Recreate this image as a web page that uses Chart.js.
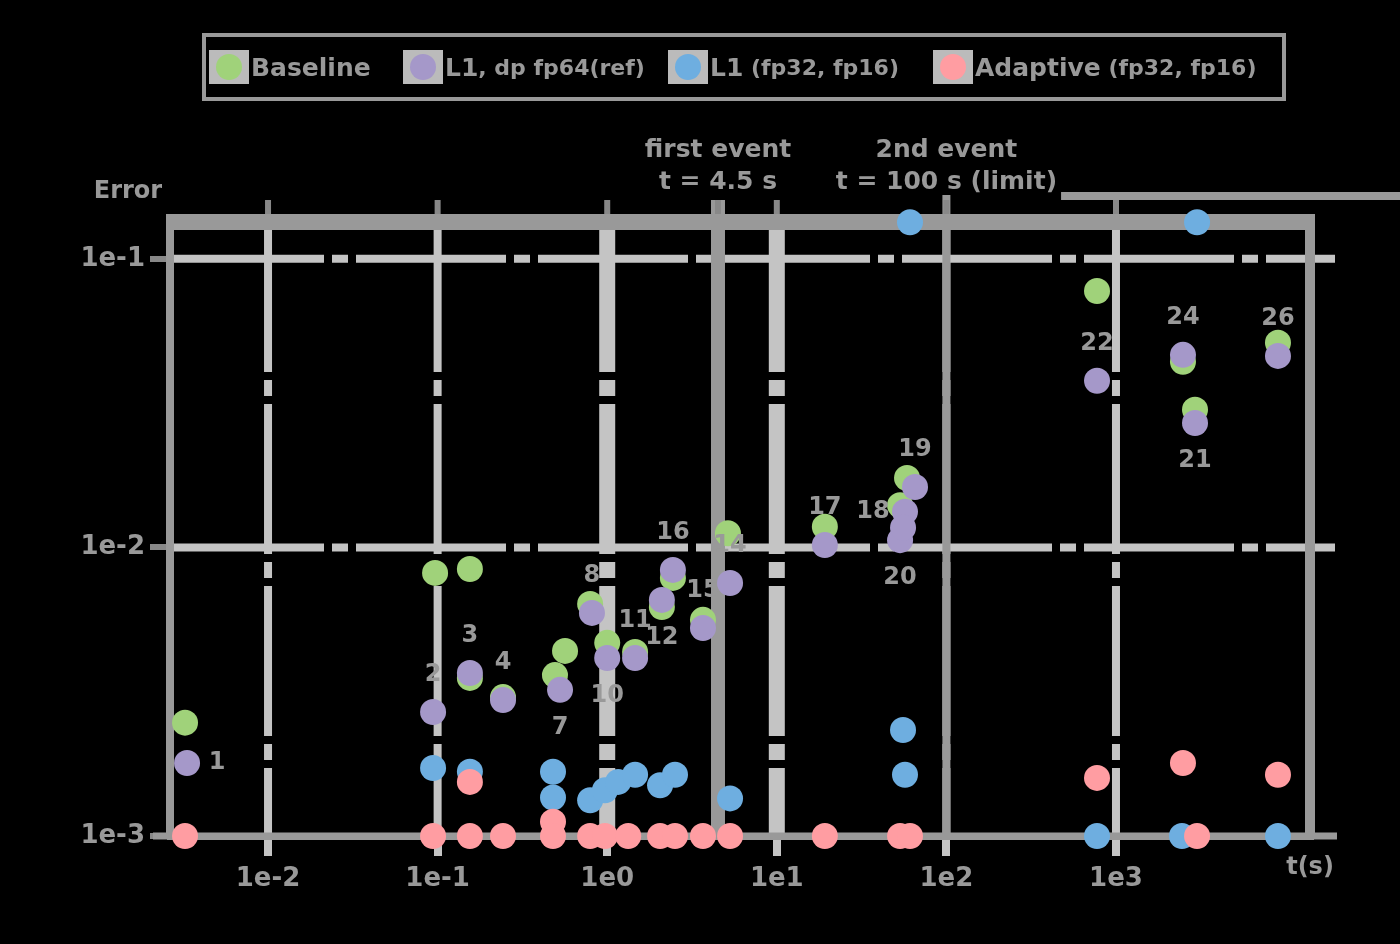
<!DOCTYPE html>
<html><head><meta charset="utf-8">
<script src="https://cdn.jsdelivr.net/npm/chart.js@4.4.1/dist/chart.umd.min.js"></script>
<style>
html,body{margin:0;padding:0;background:#000;width:1400px;height:944px;overflow:hidden;}
#wrap{position:relative;width:1400px;height:944px;}
canvas{position:absolute;left:0;top:0;}
#legend{position:absolute;left:202px;top:33px;width:1084px;height:68px;box-sizing:border-box;border:4px solid #999;display:flex;align-items:center;padding-left:3px;font:bold 25px "DejaVu Sans",sans-serif;color:#999;}
.item{display:flex;align-items:center;white-space:nowrap;flex-shrink:0;}
.key{width:40px;height:34px;background:#bbb;display:flex;align-items:center;justify-content:center;margin-right:2px;flex-shrink:0;}
.dot{width:26px;height:26px;border-radius:50%;}
.sub{font-size:22px;white-space:pre;}
</style></head><body>
<div id="wrap"><canvas id="c" width="1400" height="944"></canvas><div id="legend"></div></div>
<script>
// ---- data ----
const seriesMain = ["Baseline", "L1", "L1", "Adaptive"];
const seriesSub = ["", ", dp fp64(ref)", " (fp32, fp16)", " (fp32, fp16)"];
const seriesColors = ["#a0d27a", "#a598c9", "#6eaee0", "#ff9da2"];

const xTickValues = [0.01, 0.1, 1, 10, 100, 1000];
const xTickLabels = ["1e-2", "1e-1", "1e0", "1e1", "1e2", "1e3"];
const yTickValues = [0.001, 0.01, 0.1];
const yTickLabels = ["1e-3", "1e-2", "1e-1"];

const greenX = [0.00324, 0.0966, 0.155, 0.155, 0.243, 0.564, 0.492, 0.793, 1.0, 1.46, 2.10, 2.44, 3.67, 5.15, 19.2, 58.6, 53.3, 773, 2483, 2924, 9020];
const greenY = [0.00247, 0.00816, 0.00842, 0.00353, 0.00303, 0.00438, 0.00361, 0.00637, 0.00467, 0.00434, 0.00622, 0.00784, 0.00561, 0.0112, 0.0118, 0.0174, 0.0140, 0.0774, 0.0440, 0.0300, 0.0512];

const purpleX = [0.00333, 0.094, 0.155, 0.243, 0.527, 0.813, 1.0, 1.46, 2.10, 2.44, 3.67, 5.30, 19.2, 65.3, 57.0, 53.3, 55.5, 773, 2483, 2924, 9020];
const purpleY = [0.00179, 0.00269, 0.00367, 0.00296, 0.00321, 0.00593, 0.00414, 0.00414, 0.00658, 0.00836, 0.00526, 0.00753, 0.0102, 0.0162, 0.0133, 0.0106, 0.0117, 0.0378, 0.0465, 0.0270, 0.0461];
const purpleLabels = ["1", "2", "3", "4", "7", "8", "10", "11", "12", "16", "15", "14", "17", "19", "18", "20", "", "22", "24", "21", "26"];
const purpleLabelSides = ["e", "n", "n", "n", "s", "n", "s", "n", "s", "n", "n", "n", "n", "n", "w", "s", "", "n", "n", "s", "n"];

const blueX = [0.094, 0.155, 0.479, 0.479, 0.793, 0.970, 1.16, 1.46, 2.05, 2.51, 5.30, 61.0, 55.5, 57.0, 773, 2449, 3006, 9020];
const blueY = [0.00172, 0.00167, 0.00167, 0.00136, 0.00133, 0.00144, 0.00154, 0.00163, 0.00150, 0.00163, 0.00135, 0.134, 0.00233, 0.00163, 0.001, 0.001, 0.134, 0.001];

const pinkX = [0.00324, 0.094, 0.155, 0.243, 0.155, 0.479, 0.479, 0.793, 0.970, 1.33, 2.05, 2.51, 3.67, 5.30, 19.2, 53.3, 61.0, 773, 2483, 3006, 9020];
const pinkY = [0.001, 0.001, 0.001, 0.001, 0.00154, 0.00112, 0.001, 0.001, 0.001, 0.001, 0.001, 0.001, 0.001, 0.001, 0.001, 0.001, 0.001, 0.00159, 0.00179, 0.001, 0.00163];

const eventTimes = [4.5, 100];
const eventTitles = ["first event", "2nd event"];
const eventNotes = ["t = 4.5 s", "t = 100 s (limit)"];
const wideGridValues = [1, 10];
const xTitle = "t(s)";
const yTitle = "Error";

// ---- styling ----
const GRAY = "#999999", DARK = "#888888", GRID = "#c4c4c4";
const FONT = 'bold 24px "DejaVu Sans", sans-serif';
const legendItemWidths = [194, 265, 265, 330];
const TICKFONT = {family: "DejaVu Sans", size: 26, weight: "bold"};

// legend (HTML)
const lg = document.getElementById("legend");
seriesMain.forEach((n, i) => {
  const it = document.createElement("div"); it.className = "item"; it.style.width = legendItemWidths[i] + "px";
  const k = document.createElement("div"); k.className = "key";
  const d = document.createElement("div"); d.className = "dot"; d.style.background = seriesColors[i];
  k.appendChild(d); it.appendChild(k);
  const t = document.createElement("span"); t.textContent = n; it.appendChild(t);
  if (seriesSub[i]) { const s = document.createElement("span"); s.className = "sub"; s.textContent = seriesSub[i]; it.appendChild(s); }
  lg.appendChild(it);
});

const pts = (xs, ys) => xs.map((v, i) => ({x: v, y: ys[i]}));

function seg(ctx, x1, y1, x2, y2) { ctx.beginPath(); ctx.moveTo(x1, y1); ctx.lineTo(x2, y2); ctx.stroke(); }

const decor = {
  id: "decor",
  beforeDatasetsDraw(chart) {
    const {ctx, chartArea: a, scales: {x, y}} = chart;
    ctx.save();
    ctx.lineCap = "butt";
    ctx.strokeStyle = GRID;
    ctx.setLineDash([150, 8, 16, 8]);
    yTickValues.forEach(v => {
      if (v <= y.min) return;
      const py = y.getPixelForValue(v);
      ctx.lineWidth = 8; seg(ctx, a.left + 4, py, a.right + 25, py);
    });
    xTickValues.forEach(v => {
      const px = x.getPixelForValue(v);
      ctx.lineWidth = wideGridValues.includes(v) ? 16 : 8;
      seg(ctx, px, a.top, px, a.bottom);
    });
    ctx.setLineDash([]);
    // event lines
    ctx.strokeStyle = GRAY;
    eventTimes.forEach((v, i) => {
      const px = x.getPixelForValue(v);
      ctx.lineWidth = i === 0 ? 14 : 8;
      seg(ctx, px, a.top - (i === 0 ? 22 : 27), px, a.bottom);
    });
    // frame
    ctx.lineWidth = 16; seg(ctx, a.left - 4, a.top, a.right + 5, a.top);
    ctx.lineWidth = 10; seg(ctx, a.right, a.top, a.right, a.bottom);
    ctx.lineWidth = 8; seg(ctx, a.left, a.top, a.left, a.bottom);
    ctx.lineWidth = 7; seg(ctx, 153, a.bottom, 1337, a.bottom);
    // top stubs
    ctx.strokeStyle = DARK; ctx.lineWidth = 6;
    xTickValues.concat([eventTimes[0]]).forEach(v => {
      const px = x.getPixelForValue(v);
      seg(ctx, px, a.top - 22, px, a.top - 8);
    });
    ctx.restore();
  },
  afterDatasetsDraw(chart) {
    const {ctx, chartArea: a, scales: {x, y}} = chart;
    ctx.save();
    ctx.font = FONT; ctx.fillStyle = GRAY; ctx.textAlign = "center"; ctx.textBaseline = "middle";
    // point labels
    const meta = chart.getDatasetMeta(1);
    meta.data.forEach((el, i) => {
      const s = purpleLabels[i]; if (!s) return;
      const side = purpleLabelSides[i];
      let dx = 0, dy = 0;
      if (side === "n") dy = -37; else if (side === "s") dy = 38; else if (side === "e") dx = 30; else if (side === "w") dx = -32;
      ctx.fillText(s, el.x + dx, el.y + dy);
    });
    // annotations
    ctx.font = 'bold 25px "DejaVu Sans", sans-serif';
    eventTimes.forEach((v, i) => {
      const px = x.getPixelForValue(v);
      ctx.fillText(eventTitles[i], px, 150);
      ctx.fillText(eventNotes[i], px, 182);
      if (i === 1) {
        const w = ctx.measureText(eventNotes[i]).width;
        ctx.strokeStyle = GRAY; ctx.lineWidth = 8;
        seg(ctx, px + w / 2 + 4, 196, 1400, 196);
      }
    });
    // axis titles
    ctx.font = 'bold 24px "DejaVu Sans", sans-serif';
    ctx.fillText(yTitle, 128, 192);
    ctx.fillText(xTitle, 1310, 868);
    ctx.restore();
  }
};

new Chart(document.getElementById("c"), {
  type: "scatter",
  data: {
    datasets: [
      {label: seriesMain[0] + seriesSub[0], data: pts(greenX, greenY), backgroundColor: seriesColors[0], order: 4},
      {label: seriesMain[1] + seriesSub[1], data: pts(purpleX, purpleY), backgroundColor: seriesColors[1], order: 3},
      {label: seriesMain[2] + seriesSub[2], data: pts(blueX, blueY), backgroundColor: seriesColors[2], order: 2},
      {label: seriesMain[3] + seriesSub[3], data: pts(pinkX, pinkY), backgroundColor: seriesColors[3], order: 1}
    ].map(d => Object.assign(d, {pointRadius: 13, pointHoverRadius: 13, borderWidth: 0, clip: false}))
  },
  options: {
    responsive: false, animation: false, devicePixelRatio: 1,
    layout: {padding: {top: 222, right: 90, left: 0, bottom: 0}},
    plugins: {legend: {display: false}, tooltip: {enabled: false}},
    scales: {
      x: {
        type: "logarithmic", min: 0.002642, max: 13932,
        afterBuildTicks: s => { s.ticks = xTickValues.map(v => ({value: v})); },
        afterFit: s => { s.height = 108; },
        ticks: {callback: (v, i) => xTickLabels[i], autoSkip: false, maxRotation: 0, color: GRAY,
                font: TICKFONT, padding: 8},
        grid: {drawOnChartArea: false, drawTicks: true, tickLength: 20, tickColor: GRID, lineWidth: 8},
        border: {display: true, color: GRAY, width: 7}
      },
      y: {
        type: "logarithmic", min: 0.001, max: 0.1342,
        afterBuildTicks: s => { s.ticks = yTickValues.map(v => ({value: v})); },
        afterFit: s => { s.width = 170; },
        ticks: {callback: (v, i) => yTickLabels[i], autoSkip: false, color: GRAY,
                font: TICKFONT, padding: 5},
        grid: {drawOnChartArea: false, drawTicks: true, tickLength: 20, tickColor: DARK, lineWidth: 6},
        border: {display: true, color: GRAY, width: 8}
      }
    }
  },
  plugins: [decor]
});
</script></body></html>
